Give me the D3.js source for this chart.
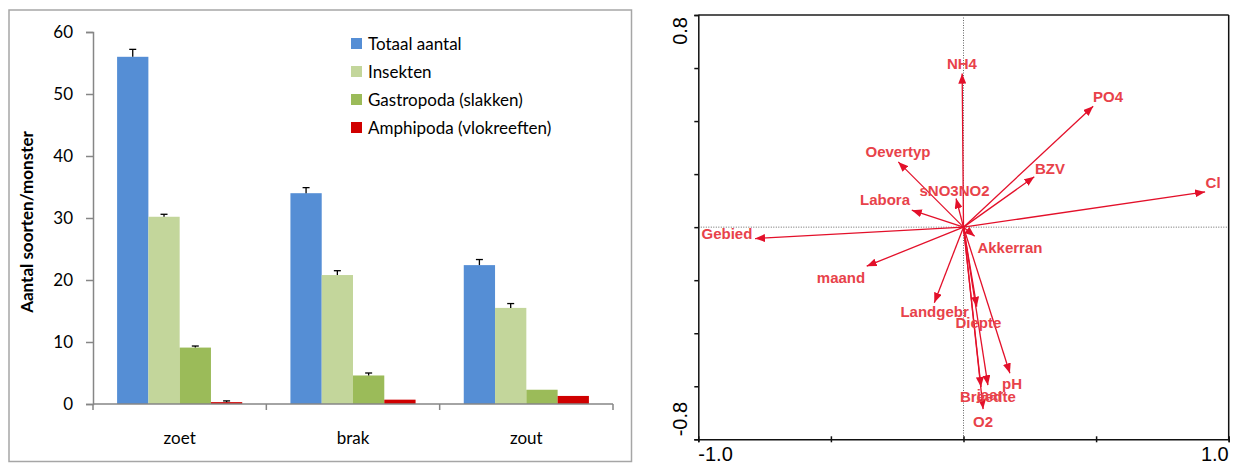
<!DOCTYPE html>
<html>
<head>
<meta charset="utf-8">
<script src="https://cdn.jsdelivr.net/npm/d3@7"></script>
<style>
  body { margin: 0; background: #fff; }
</style>
</head>
<body>
<div id="chart-area"></div>
<script>
// left chart: number of species per sample
const categories = ["zoet", "brak", "zout"];
const seriesNames = ["Totaal aantal", "Insekten", "Gastropoda (slakken)", "Amphipoda (vlokreeften)"];
const seriesColors = ["#558ed5", "#c3d69b", "#9bbb59", "#d00000"];
const totaal = [56.0, 34.0, 22.4];
const insekten = [30.2, 20.8, 15.5];
const gastropoda = [9.1, 4.6, 2.3];
const amphipoda = [0.3, 0.7, 1.3];
const totaalErr = [1.2, 0.9, 0.9];
const insektenErr = [0.4, 0.7, 0.7];
const gastropodaErr = [0.25, 0.4, 0];
const amphipodaErr = [0.2, 0, 0];
const yTicks = [0, 10, 20, 30, 40, 50, 60];

// right chart: ordination biplot arrows
const varNames = ["NH4", "PO4", "BZV", "Cl", "sNO3NO2", "Oevertyp", "Labora", "Gebied", "maand",
                  "Landgebr", "Akkerran", "Diepte", "pH", "jaar", "Breedte", "O2"];
const arrowX = [-0.005, 0.489, 0.267, 0.911, -0.028, -0.246, -0.195, -0.786, -0.365,
                -0.110, 0.042, 0.050, 0.175, 0.092, 0.066, 0.074];
const arrowY = [0.579, 0.456, 0.190, 0.133, 0.108, 0.246, 0.064, -0.043, -0.147,
                -0.285, -0.034, -0.300, -0.551, -0.596, -0.603, -0.686];
const labelX = [-0.006, 0.545, 0.326, 0.941, -0.034, -0.247, -0.296, -0.892, -0.462,
                -0.109, 0.175, 0.056, 0.183, 0.100, 0.092, 0.074];
const labelY = [0.618, 0.490, 0.222, 0.166, 0.137, 0.283, 0.102, -0.026, -0.192,
                -0.319, -0.077, -0.359, -0.592, -0.633, -0.641, -0.734];
const xTickVals = [-1.0, -0.5, 0, 0.5, 1.0];
const yTickVals = [-0.8, -0.6, -0.4, -0.2, 0, 0.2, 0.4, 0.6, 0.8];

const svg = d3.select("#chart-area")
  .append("svg")
  .attr("width", 1241)
  .attr("height", 465);

// ---------- left panel ----------
const leftFont = "Lato, 'Open Sans', sans-serif";
svg.append("rect")
  .attr("x", 9).attr("y", 10)
  .attr("width", 622.5).attr("height", 451.5)
  .attr("fill", "none")
  .attr("stroke", "#a6a6a6")
  .attr("stroke-width", 1.5);

const x0 = d3.scaleBand()
  .domain(categories)
  .range([93, 613]);

const x1 = d3.scaleBand()
  .domain(seriesNames)
  .range([x0.bandwidth() * 0.139, x0.bandwidth() * 0.861]);

const y = d3.scaleLinear()
  .domain([0, 60])
  .range([404, 32]);

const values = [totaal, insekten, gastropoda, amphipoda];
const errors = [totaalErr, insektenErr, gastropodaErr, amphipodaErr];

const barData = [];
seriesNames.forEach((s, i) => {
  categories.forEach((c, j) => {
    barData.push({ cat: c, series: s, value: values[i][j], err: errors[i][j], color: seriesColors[i] });
  });
});

svg.selectAll("rect.bar")
  .data(barData)
  .enter()
  .append("rect")
  .attr("class", "bar")
  .attr("x", d => x0(d.cat) + x1(d.series))
  .attr("y", d => y(d.value))
  .attr("width", x1.bandwidth())
  .attr("height", d => y(0) - y(d.value))
  .attr("fill", d => d.color);

// error bars (upper only)
const errData = barData.filter(d => d.err > 0);
const errG = svg.append("g").attr("stroke", "#000").attr("stroke-width", 1.3);
errG.selectAll("line.ev")
  .data(errData)
  .enter()
  .append("line")
  .attr("x1", d => x0(d.cat) + x1(d.series) + x1.bandwidth() / 2)
  .attr("x2", d => x0(d.cat) + x1(d.series) + x1.bandwidth() / 2)
  .attr("y1", d => y(d.value))
  .attr("y2", d => y(d.value + d.err));
errG.selectAll("line.ec")
  .data(errData)
  .enter()
  .append("line")
  .attr("x1", d => x0(d.cat) + x1(d.series) + x1.bandwidth() / 2 - 3.5)
  .attr("x2", d => x0(d.cat) + x1(d.series) + x1.bandwidth() / 2 + 3.5)
  .attr("y1", d => y(d.value + d.err))
  .attr("y2", d => y(d.value + d.err));

// y axis
const yAxis = svg.append("g")
  .attr("transform", "translate(93,0)")
  .call(d3.axisLeft(y).tickValues(yTicks).tickSize(7).tickPadding(13));
yAxis.select(".domain").attr("stroke", "#868686").attr("stroke-width", 1.5);
yAxis.selectAll(".tick line").attr("stroke", "#868686").attr("stroke-width", 1.5);
yAxis.selectAll(".tick text")
  .attr("font-family", leftFont)
  .attr("font-size", 17)
  .attr("fill", "#000");

// x axis
const xAxisG = svg.append("g");
xAxisG.append("line")
  .attr("x1", x0.range()[0]).attr("x2", x0.range()[1])
  .attr("y1", y(0)).attr("y2", y(0))
  .attr("stroke", "#868686").attr("stroke-width", 1.5);
const bounds = categories.map(c => x0(c)).concat([x0.range()[1]]);
xAxisG.selectAll("line.xt")
  .data(bounds)
  .enter()
  .append("line")
  .attr("x1", d => d).attr("x2", d => d)
  .attr("y1", y(0)).attr("y2", y(0) + 6)
  .attr("stroke", "#868686").attr("stroke-width", 1.5);
xAxisG.selectAll("text")
  .data(categories)
  .enter()
  .append("text")
  .attr("x", d => x0(d) + x0.bandwidth() / 2)
  .attr("y", 444)
  .attr("text-anchor", "middle")
  .attr("font-family", leftFont)
  .attr("font-size", 17)
  .text(d => d);

svg.append("text")
  .attr("transform", "translate(33,222) rotate(-90)")
  .attr("text-anchor", "middle")
  .attr("font-family", leftFont)
  .attr("font-size", 17)
  .attr("font-weight", "bold")
  .text("Aantal soorten/monster");

// legend
const legend = svg.append("g").attr("transform", "translate(351,44)");
const li = legend.selectAll("g")
  .data(seriesNames)
  .enter()
  .append("g")
  .attr("transform", (d, i) => `translate(0,${i * 28})`);
li.append("rect")
  .attr("x", 0).attr("y", -6)
  .attr("width", 11).attr("height", 11)
  .attr("fill", (d, i) => seriesColors[i]);
li.append("text")
  .attr("x", 17).attr("y", 6)
  .attr("font-family", leftFont)
  .attr("font-size", 17)
  .text(d => d);

// ---------- right panel ----------
const xs = d3.scaleLinear().domain([-1, 1]).range([698.3, 1228.7]);
const ys = d3.scaleLinear().domain([-0.8, 0.8]).range([439.3, 15]);
const arrowColor = "#e3102a";
const labelColor = "#e8424a";
const rFont = "'Liberation Sans', Arial, sans-serif";
const fmt = d3.formatLocale({ decimal: ".", thousands: ",", grouping: [3], currency: ["", ""], minus: "-" }).format(".1f");

// dotted zero lines
svg.append("line")
  .attr("x1", xs(-1)).attr("x2", xs(1))
  .attr("y1", ys(0)).attr("y2", ys(0))
  .attr("stroke", "#666").attr("stroke-width", 1).attr("stroke-dasharray", "1,1.5");
svg.append("line")
  .attr("x1", xs(0)).attr("x2", xs(0))
  .attr("y1", ys(0.8)).attr("y2", ys(-0.8))
  .attr("stroke", "#666").attr("stroke-width", 1).attr("stroke-dasharray", "1,1.5");

// frame top and right
svg.append("line")
  .attr("x1", xs(-1)).attr("x2", xs(1))
  .attr("y1", ys(0.8)).attr("y2", ys(0.8))
  .attr("stroke", "#555").attr("stroke-width", 2);
svg.append("line")
  .attr("x1", xs(1)).attr("x2", xs(1))
  .attr("y1", ys(0.8)).attr("y2", ys(-0.8))
  .attr("stroke", "#111").attr("stroke-width", 1.5);

const rAxisL = svg.append("g")
  .attr("transform", `translate(${xs(-1)},0)`)
  .call(d3.axisLeft(ys).tickValues(yTickVals).tickSize(4).tickFormat(""));
const rAxisB = svg.append("g")
  .attr("transform", `translate(0,${ys(-0.8)})`)
  .call(d3.axisBottom(xs).tickValues(xTickVals).tickSize(3).tickFormat(""));
rAxisB.selectAll(".tick line").attr("y1", -3);
[rAxisL, rAxisB].forEach(g => {
  g.select(".domain").attr("stroke", "#111").attr("stroke-width", 1.5);
  g.selectAll(".tick line").attr("stroke", "#111").attr("stroke-width", 1.5);
});

// axis end labels
svg.append("text")
  .attr("x", xs(-1)).attr("y", 461)
  .attr("font-family", rFont).attr("font-size", 20)
  .text(fmt(xTickVals[0]));
svg.append("text")
  .attr("x", xs(1)).attr("y", 461)
  .attr("text-anchor", "end")
  .attr("font-family", rFont).attr("font-size", 20)
  .text(fmt(xTickVals[xTickVals.length - 1]));
svg.append("text")
  .attr("transform", `translate(687,${ys(0.8) + 2}) rotate(-90)`)
  .attr("text-anchor", "end")
  .attr("font-family", rFont).attr("font-size", 20)
  .text(fmt(yTickVals[yTickVals.length - 1]));
svg.append("text")
  .attr("transform", `translate(687,${ys(-0.8) - 3}) rotate(-90)`)
  .attr("text-anchor", "start")
  .attr("font-family", rFont).attr("font-size", 20)
  .text(fmt(yTickVals[0]));

// arrowhead marker
svg.append("defs").append("marker")
  .attr("id", "head")
  .attr("viewBox", "0 0 10 8")
  .attr("refX", 10).attr("refY", 4)
  .attr("markerWidth", 10).attr("markerHeight", 8)
  .attr("markerUnits", "userSpaceOnUse")
  .attr("orient", "auto")
  .append("path")
  .attr("d", "M0,0 L10,4 L0,8 Z")
  .attr("fill", arrowColor);

const bip = varNames.map((n, i) => ({ name: n, x: arrowX[i], y: arrowY[i], lx: labelX[i], ly: labelY[i] }));

svg.append("g").selectAll("line")
  .data(bip)
  .enter()
  .append("line")
  .attr("x1", xs(0)).attr("y1", ys(0))
  .attr("x2", d => xs(d.x)).attr("y2", d => ys(d.y))
  .attr("stroke", arrowColor)
  .attr("stroke-width", 1.3)
  .attr("marker-end", "url(#head)");

svg.append("g").selectAll("text")
  .data(bip)
  .enter()
  .append("text")
  .attr("x", d => xs(d.lx))
  .attr("y", d => ys(d.ly))
  .attr("dy", "0.35em")
  .attr("text-anchor", "middle")
  .attr("font-family", rFont)
  .attr("font-size", 15)
  .attr("font-weight", "bold")
  .attr("fill", labelColor)
  .text(d => d.name);
</script>
</body>
</html>
